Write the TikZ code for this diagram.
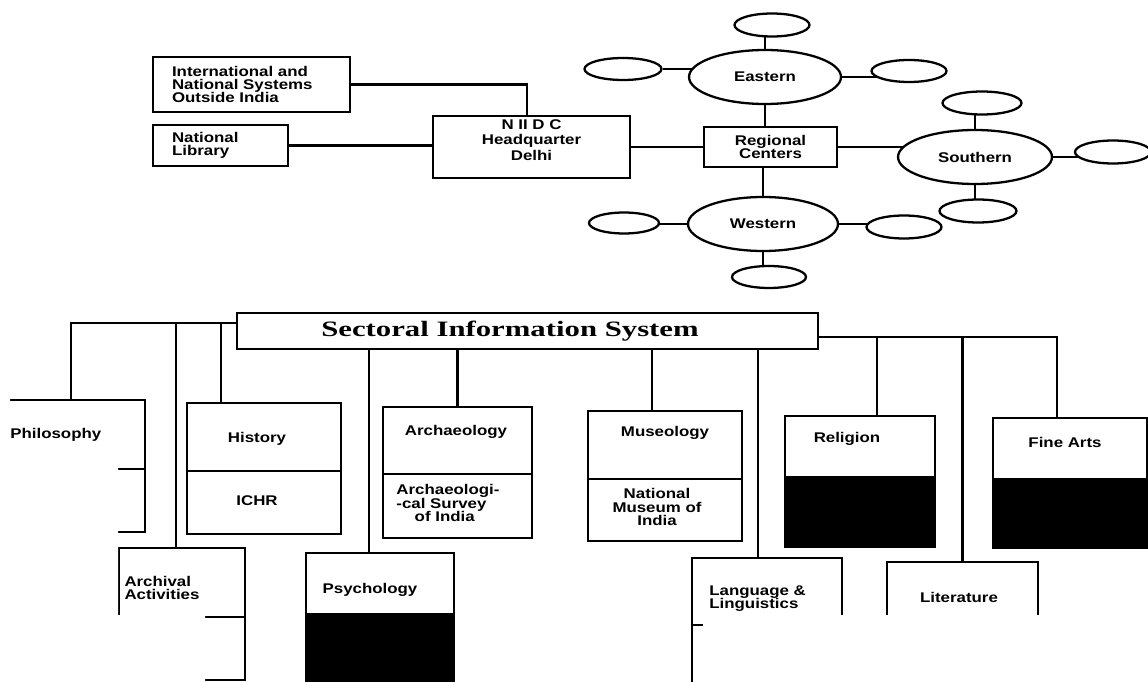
\documentclass[tikz,border=0pt]{standalone}
\usepackage{fontspec}
\setmainfont{Liberation Serif}
\newfontfamily\lblfont[FakeStretch=1.2]{Liberation Sans}
\newfontfamily\ttlfont[FakeStretch=1.4]{Liberation Serif}
\usetikzlibrary{shapes.geometric, positioning, backgrounds}

\begin{document}
\begin{tikzpicture}[x=0.02cm, y=-0.02cm,
    box/.style={draw, line width=1.3pt, fill=white, inner sep=0pt, align=center,
                font=\lblfont\bfseries\fontsize{8}{7.5}\selectfont},
    oval/.style={ellipse, draw, line width=1.3pt, fill=white, inner sep=0pt,
                 font=\lblfont\bfseries\fontsize{8}{7.5}\selectfont},
    lbl/.style={inner sep=0pt, align=center,
                font=\lblfont\bfseries\fontsize{8}{7.5}\selectfont},
    conn/.style={line width=1.3pt}
  ]
  \useasboundingbox (0,0) rectangle (1148,682);
  \clip (0,0) rectangle (1148,682);

  % headquarter side
  \node[box, minimum width=3.94cm, minimum height=1.1cm, text width=3.18cm,
        inner xsep=0.38cm, align=left] (intl) at (251.5,84.5)
        {International and\\National Systems\\Outside India};
  \node[box, minimum width=2.7cm, minimum height=0.82cm, text width=1.94cm,
        inner xsep=0.38cm, align=left] (natlib) at (220.5,145.5) {National\\Library};
  \node[box, minimum width=3.94cm, minimum height=1.24cm] (niidc) at (531.5,147) {};
  \node[lbl] (niidcA) at (531.5,140) {N II D C\\[1.5pt]Headquarter\\[1.5pt]Delhi};
  \node[box, minimum width=2.66cm, minimum height=0.8cm] (regional) at (770.5,147)
        {Regional\\Centers};

  % regional centres
  \node[oval, minimum width=3.04cm, minimum height=1.08cm] (east) at (765,77) {Eastern};
  \node[oval, minimum width=3.0cm, minimum height=1.08cm] (west) at (763,224) {Western};
  \node[oval, minimum width=3.08cm, minimum height=1.08cm] (south) at (975,157) {Southern};
  \node[oval, minimum width=1.5cm, minimum height=0.46cm] (etop) at (772,25) {};
  \node[oval, minimum width=1.54cm, minimum height=0.44cm] (eleft) at (623,69) {};
  \node[oval, minimum width=1.5cm, minimum height=0.44cm] (eright) at (909,71) {};
  \node[oval, minimum width=1.4cm, minimum height=0.42cm] (wleft) at (624,223) {};
  \node[oval, minimum width=1.5cm, minimum height=0.46cm] (wright) at (904,227) {};
  \node[oval, minimum width=1.48cm, minimum height=0.44cm] (wbot) at (769,277) {};
  \node[oval, minimum width=1.58cm, minimum height=0.46cm] (stop) at (982,103) {};
  \node[oval, minimum width=1.54cm, minimum height=0.46cm] (sbot) at (978,211) {};
  \node[oval, minimum width=1.52cm, minimum height=0.46cm] (sright) at (1113,152) {};

  % sectoral system
  \node[box, minimum width=11.62cm, minimum height=0.72cm,
        font=\ttlfont\bfseries\fontsize{12.5}{14}\selectfont] (sis) at (527.5,331)
        {Sectoral Information System\hspace*{0.7cm}};
  \coordinate (lb) at ([yshift=0.16cm]sis.west);
  \coordinate (rb) at ([yshift=-0.12cm]sis.east);

  \node[box, minimum width=2.96cm, minimum height=2.64cm] (phil) at (71,466) {};
  \node[box, minimum width=3.08cm, minimum height=2.62cm] (hist) at (264,468.5) {};
  \node[box, minimum width=2.98cm, minimum height=2.62cm] (archeo) at (457.5,472.5) {};
  \node[box, minimum width=3.08cm, minimum height=2.6cm] (muse) at (665,476) {};
  \node[box, minimum width=3.0cm, minimum height=2.62cm] (rel) at (860,481.5) {};
  \node[box, minimum width=3.08cm, minimum height=2.6cm] (fine) at (1070,483) {};
  \node[box, minimum width=2.52cm, minimum height=2.64cm] (archv) at (182,614) {};
  \node[box, minimum width=2.96cm, minimum height=2.94cm] (psych) at (380,626.5) {};
  \node[box, minimum width=3.0cm, minimum height=2.84cm] (lang) at (767,629) {};
  \node[box, minimum width=3.02cm, minimum height=2.76cm] (lit) at (962.5,631) {};

  % dividers and dark lower halves
  \draw[conn] ([yshift=-1.4cm]phil.north west) -- ([yshift=-1.4cm]phil.north east);
  \draw[conn] ([yshift=-1.38cm]hist.north west) -- ([yshift=-1.38cm]hist.north east);
  \draw[conn] ([yshift=-1.36cm]archeo.north west) -- ([yshift=-1.36cm]archeo.north east);
  \draw[conn] ([yshift=-1.38cm]muse.north west) -- ([yshift=-1.38cm]muse.north east);
  \draw[conn] ([yshift=-1.4cm]archv.north west) -- ([yshift=-1.4cm]archv.north east);
  \draw[conn] ([yshift=-1.36cm]lang.north west) -- ([yshift=-1.36cm]lang.north east);
  \draw[conn] ([yshift=-1.38cm]lit.north west) -- ([yshift=-1.38cm]lit.north east);
  \fill ([yshift=-1.22cm]rel.north west) rectangle (rel.south east);
  \fill ([yshift=-1.22cm]fine.north west) rectangle (fine.south east);
  \fill ([yshift=-1.22cm]psych.north west) rectangle (psych.south east);

  \node[lbl, anchor=west] (philA) at (10,435) {Philosophy};
  \node[lbl] (histA) at (257,439) {History};
  \node[lbl] (histB) at (257,501) {ICHR};
  \node[lbl] (archeoA) at (456,432) {Archaeology};
  \node[lbl, align=left] (archeoB) at (448,503)
        {Archaeologi-\\-cal Survey\\\hspace*{1.3em}of India};
  \node[lbl] (museA) at (665,433) {Museology};
  \node[lbl] (museB) at (657,507) {National\\Museum of\\India};
  \node[lbl] (relA) at (847,439) {Religion};
  \node[lbl] (fineA) at (1065,442) {Fine Arts};
  \node[lbl, align=left] (archvA) at (162,588) {Archival\\Activities};
  \node[lbl] (psychA) at (370,590) {Psychology};
  \node[lbl, anchor=west, align=left] (langA) at (709,599) {Language \&\\Linguistics};
  \node[lbl] (litA) at (959,597) {Literature};

  \begin{scope}[on background layer]
    \draw[conn] (intl) -| ([xshift=-0.09cm]niidc.center);
    \draw[conn] (natlib) -- (natlib -| niidc);
    \draw[conn] (niidc) -- (niidc -| regional);
    \draw[conn] (regional) -- (regional -| south);
    \draw[conn] (east) -- (east |- regional);
    \draw[conn] (west) -- (west |- regional);
    \draw[conn] (east) -- (east |- etop);
    \draw[conn] (eleft) -- (eleft -| east);
    \draw[conn] (east) -- (east -| eright);
    \draw[conn] (west) -- (west -| wleft);
    \draw[conn] (west) -- (west -| wright);
    \draw[conn] (west) -- (west |- wbot);
    \draw[conn] (south) -- (south |- stop);
    \draw[conn] (south) -- (south |- sbot);
    \draw[conn] (south) -- (south -| sright);

    \draw[conn] (lb) -| (phil);
    \draw[conn] ([xshift=-0.12cm]archv.north) |- (lb);
    \draw[conn] ([xshift=-0.86cm]hist.north) |- (lb);
    \draw[conn] ([xshift=-0.22cm]psych.north) |- (sis);
    \draw[conn] (archeo) |- (sis);
    \draw[conn] ([xshift=-0.26cm]muse.north) |- (sis);
    \draw[conn] ([xshift=-0.18cm]lang.north) |- (sis);
    \draw[conn] (rb) -| ([xshift=-0.26cm]fine.north);
    \draw[conn] ([xshift=0.34cm]rel.north) |- (rb);
    \draw[conn] (lit.north) |- (rb);
  \end{scope}

  % blanked parts of the page
  \fill[white] (0,380) -- (10,380) -- (10,462) -- (118,462) -- (118,615)
    -- (205,615) -- (205,690) -- (0,690) -- cycle;
  \fill[white] (703,615) rectangle (1150,690);
\end{tikzpicture}
\end{document}
